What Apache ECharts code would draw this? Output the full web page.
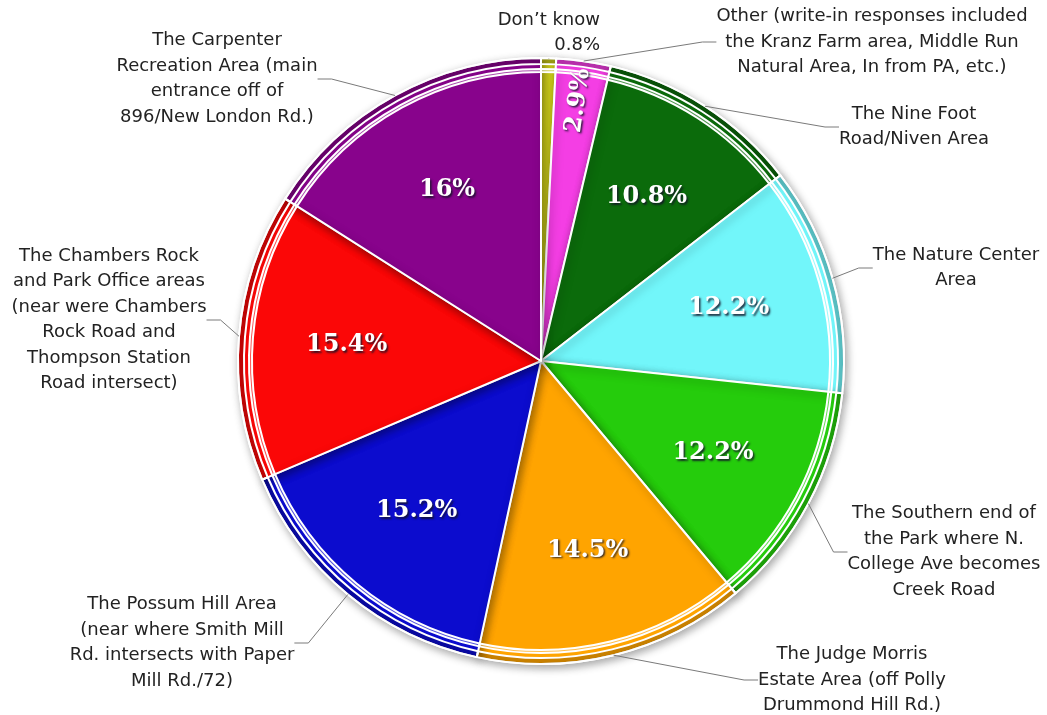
<!DOCTYPE html>
<html>
<head>
<meta charset="utf-8">
<script src="https://cdn.jsdelivr.net/npm/echarts@6/dist/echarts.min.js"></script>
<style>
  html, body { margin: 0; padding: 0; background: #ffffff; }
  #chart { width: 1047px; height: 715px; }
</style>
</head>
<body>
<div id="chart"></div>
<script>
// Where park visitors usually go: share of responses per area
const categories = [
  "Don’t know",
  "Other (write-in responses included\nthe Kranz Farm area, Middle Run\nNatural Area, In from PA, etc.)",
  "The Nine Foot\nRoad/Niven Area",
  "The Nature Center\nArea",
  "The Southern end of\nthe Park where N.\nCollege Ave becomes\nCreek Road",
  "The Judge Morris\nEstate Area (off Polly\nDrummond Hill Rd.)",
  "The Possum Hill Area\n(near where Smith Mill\nRd. intersects with Paper\nMill Rd./72)",
  "The Chambers Rock\nand Park Office areas\n(near were Chambers\nRock Road and\nThompson Station\nRoad intersect)",
  "The Carpenter\nRecreation Area (main\nentrance off of\n896/New London Rd.)"
];
const shares = [0.8, 2.9, 10.8, 12.2, 12.2, 14.5, 15.2, 15.4, 16];

const sliceColors = ['#d6d61c', '#f43ee4', '#0b6b0b', '#72f6fa', '#25cc0c',
                     '#ffa400', '#0c0cce', '#fb0707', '#88038c'];

// Callout text placement: [x, y, align]
const calloutSpots = [
  [600, 33, 'right'], [872, 42, 'center'], [914, 127, 'center'],
  [956, 268, 'center'], [944, 552, 'center'], [852, 680, 'center'],
  [182, 643, 'center'], [109, 320, 'center'], [217, 79, 'center']
];

const CX = 541, CY = 361, R = 303;

const sliceData = categories.map((name, i) => ({
  name: name,
  value: shares[i],
  itemStyle: { color: sliceColors[i] }
}));

function ringData(fill) {
  return categories.map((name, i) => ({ name: name, value: shares[i], itemStyle: { color: fill } }));
}

const chart = echarts.init(document.getElementById('chart'), null, { renderer: 'canvas' });

const common = {
  type: 'pie',
  center: [CX, CY],
  startAngle: 90,
  clockwise: true,
  silent: true,
  animation: false,
  avoidLabelOverlap: false
};

chart.setOption({
  backgroundColor: '#ffffff',
  series: [
    // coloured slices
    Object.assign({}, common, {
      radius: [0, R],
      z: 2,
      data: sliceData,
      itemStyle: {
        borderColor: '#ffffff',
        borderWidth: 2,
        shadowBlur: 8,
        shadowColor: 'rgba(0,0,0,0.35)',
        shadowOffsetX: 2,
        shadowOffsetY: 3
      },
      label: { show: false },
      labelLine: { show: false }
    }),
    // glossy highlight just inside the rim
    Object.assign({}, common, {
      radius: [289, 292],
      z: 3,
      data: ringData('rgba(255,255,255,0.3)'),
      itemStyle: { borderColor: '#ffffff', borderWidth: 2 },
      label: { show: false },
      labelLine: { show: false }
    }),
    // darker rim edge
    Object.assign({}, common, {
      radius: [297, R],
      z: 3,
      data: ringData('rgba(0,0,0,0.2)'),
      itemStyle: { borderColor: '#ffffff', borderWidth: 2 },
      label: { show: false },
      labelLine: { show: false }
    }),
    // outside callouts with leader lines
    Object.assign({}, common, {
      radius: [0, R],
      z: 4,
      data: ringData('rgba(0,0,0,0)'),
      itemStyle: { borderWidth: 0 },
      label: {
        show: true,
        position: 'outside',
        color: '#222222',
        fontFamily: 'DejaVu Sans',
        fontSize: 18,
        lineHeight: 25.5,
        formatter: p => p.dataIndex === 0 ? p.name + '\n' + p.value + '%' : p.name
      },
      labelLine: {
        show: true,
        length: 12,
        length2: 14,
        lineStyle: { color: '#7a7a7a', width: 1 }
      },
      labelLayout: p => {
        const s = calloutSpots[p.dataIndex];
        return { x: s[0], y: s[1], align: s[2], verticalAlign: 'middle' };
      }
    }),
    // percentage labels inside the slices
    Object.assign({}, common, {
      radius: [0, 384],
      z: 5,
      data: categories.map((name, i) => ({
        name: name,
        value: shares[i],
        itemStyle: { color: 'rgba(0,0,0,0)' },
        label: i === 0 ? { show: false } : (i === 1 ? { rotate: 'radial' } : {})
      })),
      itemStyle: { borderWidth: 0 },
      label: {
        show: true,
        position: 'inside',
        formatter: '{c}%',
        color: '#ffffff',
        fontFamily: 'DejaVu Serif',
        fontWeight: 'bold',
        fontSize: 24,
        textShadowColor: 'rgba(20,20,40,0.85)',
        textShadowBlur: 2,
        textShadowOffsetX: 1.5,
        textShadowOffsetY: 1.5
      },
      labelLine: { show: false },
      // the narrow slice's label sits further out, along its own (radial) text direction
      labelLayout: p => (p.dataIndex === 1 ? { dx: 68, dy: 0 } : {})
    })
  ]
});
</script>
</body>
</html>
